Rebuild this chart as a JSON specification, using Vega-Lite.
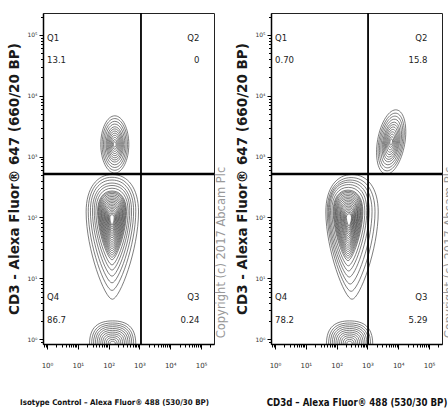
{
  "$schema": "https://vega.github.io/schema/vega-lite/v6.json",
  "background": "white",
  "padding": {"left": 7, "top": 11, "right": 0, "bottom": 0},
  "spacing": 57,
  "bounds": "flush",
  "datasets": {
    "contours": [
      {"p": 1, "form": "egg", "x": 131.8, "y": 47.9, "span": 2.05},
      {"p": 1, "form": "egg", "x": 128.8, "y": 53.7, "span": 1.86},
      {"p": 1, "form": "egg", "x": 128.8, "y": 58.9, "span": 1.69},
      {"p": 1, "form": "egg", "x": 128.8, "y": 63.1, "span": 1.53},
      {"p": 1, "form": "egg", "x": 128.8, "y": 67.6, "span": 1.39},
      {"p": 1, "form": "egg", "x": 128.8, "y": 70.8, "span": 1.26},
      {"p": 1, "form": "egg", "x": 128.8, "y": 74.1, "span": 1.13},
      {"p": 1, "form": "egg", "x": 128.8, "y": 76.0, "span": 1.07},
      {"p": 1, "form": "egg", "x": 128.8, "y": 77.6, "span": 1.01},
      {"p": 1, "form": "egg", "x": 128.8, "y": 78.5, "span": 0.95},
      {"p": 1, "form": "egg", "x": 128.8, "y": 79.4, "span": 0.89},
      {"p": 1, "form": "egg", "x": 128.8, "y": 80.3, "span": 0.83},
      {"p": 1, "form": "egg", "x": 128.8, "y": 81.3, "span": 0.77},
      {"p": 1, "form": "egg", "x": 128.8, "y": 82.2, "span": 0.71},
      {"p": 1, "form": "egg", "x": 128.8, "y": 83.2, "span": 0.65},
      {"p": 1, "form": "egg", "x": 128.8, "y": 84.1, "span": 0.59},
      {"p": 1, "form": "egg", "x": 128.8, "y": 85.1, "span": 0.53},
      {"p": 1, "form": "egg", "x": 128.8, "y": 86.1, "span": 0.47},
      {"p": 1, "form": "egg", "x": 128.8, "y": 87.1, "span": 0.41},
      {"p": 1, "form": "egg", "x": 128.8, "y": 88.1, "span": 0.35},
      {"p": 1, "form": "egg", "x": 128.8, "y": 89.1, "span": 0.29},
      {"p": 1, "form": "egg", "x": 128.8, "y": 90.1, "span": 0.23},
      {"p": 1, "form": "egg", "x": 128.8, "y": 91.2, "span": 0.17},
      {"p": 1, "form": "oval", "x": 158.5, "y": 1585, "span": 0.94},
      {"p": 1, "form": "oval", "x": 158.5, "y": 1585, "span": 0.85},
      {"p": 1, "form": "oval", "x": 158.5, "y": 1585, "span": 0.76},
      {"p": 1, "form": "oval", "x": 158.5, "y": 1585, "span": 0.67},
      {"p": 1, "form": "oval", "x": 158.5, "y": 1585, "span": 0.58},
      {"p": 1, "form": "oval", "x": 158.5, "y": 1585, "span": 0.51},
      {"p": 1, "form": "oval", "x": 158.5, "y": 1585, "span": 0.44},
      {"p": 1, "form": "oval", "x": 158.5, "y": 1585, "span": 0.37},
      {"p": 1, "form": "oval", "x": 158.5, "y": 1585, "span": 0.30},
      {"p": 1, "form": "oval", "x": 158.5, "y": 1585, "span": 0.23},
      {"p": 1, "form": "oval", "x": 158.5, "y": 1585, "span": 0.16},
      {"p": 1, "form": "oval", "x": 158.5, "y": 1585, "span": 0.09},
      {"p": 1, "form": "dome", "x": 134.9, "y": 0.832, "span": 0.76},
      {"p": 1, "form": "dome", "x": 134.9, "y": 0.832, "span": 0.69},
      {"p": 1, "form": "dome", "x": 134.9, "y": 0.832, "span": 0.63},
      {"p": 1, "form": "dome", "x": 134.9, "y": 0.832, "span": 0.57},
      {"p": 1, "form": "dome", "x": 134.9, "y": 0.832, "span": 0.51},
      {"p": 1, "form": "dome", "x": 134.9, "y": 0.832, "span": 0.45},
      {"p": 1, "form": "dome", "x": 134.9, "y": 0.832, "span": 0.39},
      {"p": 1, "form": "dome", "x": 134.9, "y": 0.832, "span": 0.33},
      {"p": 1, "form": "dome", "x": 134.9, "y": 0.832, "span": 0.27},
      {"p": 1, "form": "dome", "x": 134.9, "y": 0.832, "span": 0.21},
      {"p": 1, "form": "dome", "x": 134.9, "y": 0.832, "span": 0.15},
      {"p": 1, "form": "dome", "x": 134.9, "y": 0.832, "span": 0.09},
      {"p": 2, "form": "egg", "x": 316.2, "y": 47.9, "span": 2.05},
      {"p": 2, "form": "egg", "x": 295.1, "y": 52.5, "span": 1.87},
      {"p": 2, "form": "egg", "x": 275.4, "y": 57.5, "span": 1.71},
      {"p": 2, "form": "egg", "x": 257.0, "y": 63.1, "span": 1.56},
      {"p": 2, "form": "egg", "x": 245.5, "y": 67.6, "span": 1.42},
      {"p": 2, "form": "egg", "x": 239.9, "y": 70.8, "span": 1.29},
      {"p": 2, "form": "egg", "x": 234.4, "y": 74.1, "span": 1.16},
      {"p": 2, "form": "egg", "x": 234.4, "y": 76.0, "span": 1.10},
      {"p": 2, "form": "egg", "x": 234.4, "y": 77.6, "span": 1.04},
      {"p": 2, "form": "egg", "x": 234.4, "y": 78.5, "span": 0.98},
      {"p": 2, "form": "egg", "x": 234.4, "y": 79.4, "span": 0.92},
      {"p": 2, "form": "egg", "x": 234.4, "y": 80.3, "span": 0.86},
      {"p": 2, "form": "egg", "x": 234.4, "y": 81.3, "span": 0.80},
      {"p": 2, "form": "egg", "x": 237.1, "y": 82.2, "span": 0.74},
      {"p": 2, "form": "egg", "x": 239.9, "y": 83.2, "span": 0.68},
      {"p": 2, "form": "egg", "x": 239.9, "y": 84.1, "span": 0.62},
      {"p": 2, "form": "egg", "x": 239.9, "y": 85.1, "span": 0.56},
      {"p": 2, "form": "egg", "x": 242.7, "y": 86.1, "span": 0.50},
      {"p": 2, "form": "egg", "x": 245.5, "y": 87.1, "span": 0.44},
      {"p": 2, "form": "egg", "x": 245.5, "y": 88.1, "span": 0.38},
      {"p": 2, "form": "egg", "x": 245.5, "y": 89.1, "span": 0.32},
      {"p": 2, "form": "egg", "x": 248.3, "y": 90.1, "span": 0.26},
      {"p": 2, "form": "egg", "x": 251.2, "y": 91.2, "span": 0.20},
      {"p": 2, "form": "tilt", "x": 5888, "y": 1738, "span": 1.07},
      {"p": 2, "form": "tilt", "x": 5888, "y": 1738, "span": 0.96},
      {"p": 2, "form": "tilt", "x": 5888, "y": 1738, "span": 0.86},
      {"p": 2, "form": "tilt", "x": 5888, "y": 1738, "span": 0.76},
      {"p": 2, "form": "tilt", "x": 5888, "y": 1738, "span": 0.66},
      {"p": 2, "form": "tilt", "x": 5888, "y": 1738, "span": 0.58},
      {"p": 2, "form": "tilt", "x": 5888, "y": 1738, "span": 0.50},
      {"p": 2, "form": "tilt", "x": 5888, "y": 1738, "span": 0.42},
      {"p": 2, "form": "tilt", "x": 5888, "y": 1738, "span": 0.34},
      {"p": 2, "form": "tilt", "x": 5888, "y": 1738, "span": 0.26},
      {"p": 2, "form": "tilt", "x": 5888, "y": 1738, "span": 0.18},
      {"p": 2, "form": "tilt", "x": 5888, "y": 1738, "span": 0.10},
      {"p": 2, "form": "dome", "x": 263.0, "y": 0.832, "span": 0.76},
      {"p": 2, "form": "dome", "x": 263.0, "y": 0.832, "span": 0.69},
      {"p": 2, "form": "dome", "x": 263.0, "y": 0.832, "span": 0.63},
      {"p": 2, "form": "dome", "x": 263.0, "y": 0.832, "span": 0.57},
      {"p": 2, "form": "dome", "x": 263.0, "y": 0.832, "span": 0.51},
      {"p": 2, "form": "dome", "x": 263.0, "y": 0.832, "span": 0.45},
      {"p": 2, "form": "dome", "x": 263.0, "y": 0.832, "span": 0.39},
      {"p": 2, "form": "dome", "x": 263.0, "y": 0.832, "span": 0.33},
      {"p": 2, "form": "dome", "x": 263.0, "y": 0.832, "span": 0.27},
      {"p": 2, "form": "dome", "x": 263.0, "y": 0.832, "span": 0.21},
      {"p": 2, "form": "dome", "x": 263.0, "y": 0.832, "span": 0.15},
      {"p": 2, "form": "dome", "x": 263.0, "y": 0.832, "span": 0.09}
    ],
    "gates": [
      {"p": 1, "gx": 1122, "gy": 518},
      {"p": 2, "gx": 1047, "gy": 518}
    ],
    "labels": [
      {"p": 1, "side": "left", "t": "Q1", "x": 1.0, "y": 88900},
      {"p": 1, "side": "left", "t": "13.1", "x": 1.0, "y": 38700},
      {"p": 1, "side": "right", "t": "Q2", "x": 89125, "y": 88900},
      {"p": 1, "side": "right", "t": "0", "x": 89125, "y": 38700},
      {"p": 1, "side": "left", "t": "Q4", "x": 1.0, "y": 4.93},
      {"p": 1, "side": "left", "t": "86.7", "x": 1.0, "y": 2.07},
      {"p": 1, "side": "right", "t": "Q3", "x": 89125, "y": 4.93},
      {"p": 1, "side": "right", "t": "0.24", "x": 89125, "y": 2.07},
      {"p": 2, "side": "left", "t": "Q1", "x": 1.0, "y": 88900},
      {"p": 2, "side": "left", "t": "0.70", "x": 1.0, "y": 38700},
      {"p": 2, "side": "right", "t": "Q2", "x": 89125, "y": 88900},
      {"p": 2, "side": "right", "t": "15.8", "x": 89125, "y": 38700},
      {"p": 2, "side": "left", "t": "Q4", "x": 1.0, "y": 4.93},
      {"p": 2, "side": "left", "t": "78.2", "x": 1.0, "y": 2.07},
      {"p": 2, "side": "right", "t": "Q3", "x": 89125, "y": 4.93},
      {"p": 2, "side": "right", "t": "5.29", "x": 89125, "y": 2.07}
    ]
  },
  "hconcat": [
    {
      "width": 171, "height": 331,
      "resolve": {"axis": {"x": "independent", "y": "independent"}},
      "layer": [
        {
          "data": {"name": "contours"},
          "transform": [{"filter": "datum.p == 1"}],
          "mark": {"type": "point", "filled": false, "clip": true, "color": "#262626", "strokeWidth": 0.7, "opacity": 0.85},
          "encoding": {
            "x": {"field": "x", "type": "quantitative", "scale": {"type": "log", "domain": [0.741, 263000], "nice": false},
              "axis": {"orient": "bottom", "values": [1, 10, 100, 1000, 10000, 100000], "labelExpr": "'10' + ['⁰','¹','²','³','⁴','⁵'][round(log(datum.value)/LN10)]", "tickSize": 5, "tickColor": "#000", "labelPadding": 12, "labelFontSize": 7, "labelFont": "DejaVu Sans", "labelColor": "#333", "domainColor": "#000", "domainWidth": 1.5, "grid": false,
                "title": "Isotype Control – Alexa Fluor® 488 (530/30 BP)", "titleFont": "DejaVu Sans Condensed", "titleFontSize": 7.9, "titleFontWeight": "bold", "titleColor": "#111", "titlePadding": 30, "titleX": 71}},
            "y": {"field": "y", "type": "quantitative", "scale": {"type": "log", "domain": [0.832, 229000], "nice": false},
              "axis": {"orient": "left", "values": [1, 10, 100, 1000, 10000, 100000], "labelExpr": "'10' + ['⁰','¹','²','³','⁴','⁵'][round(log(datum.value)/LN10)]", "tickSize": 4, "tickColor": "#000", "labelPadding": 2, "labelFontSize": 6, "labelFont": "DejaVu Sans", "labelColor": "#333", "domainColor": "#000", "domainWidth": 1.5, "grid": false,
                "title": "CD3 - Alexa Fluor® 647 (660/20 BP)", "titleFont": "DejaVu Sans", "titleFontSize": 13.5, "titleFontWeight": "bold", "titleColor": "#1a1a1a", "titlePadding": 5}},
            "size": {"field": "span", "type": "quantitative", "scale": {"type": "pow", "exponent": 2, "domain": [0, 2], "range": [0, 14811]}, "legend": null},
            "shape": {"field": "form", "type": "nominal", "scale": {"domain": ["egg", "oval", "tilt", "dome"], "range": [
              "M0,-1 C0.25,-1 0.42,-0.78 0.42,-0.4 C0.42,0.2 0.12,1 0,1 C-0.12,1 -0.42,0.2 -0.42,-0.4 C-0.42,-0.78 -0.25,-1 0,-1 Z",
              "M0,-1 C0.27,-1 0.49,-0.55 0.49,0 C0.49,0.55 0.27,1 0,1 C-0.27,1 -0.49,0.55 -0.49,0 C-0.49,-0.55 -0.27,-1 0,-1 Z",
              "M0.174,-0.985 C0.403,-0.945 0.51,-0.471 0.414,0.073 C0.318,0.617 0.055,1.025 -0.174,0.985 C-0.403,0.945 -0.51,0.471 -0.414,-0.073 C-0.318,-0.617 -0.055,-1.025 0.174,-0.985 Z",
              "M-1,0 C-1,-0.75 -0.6,-1 0,-1 C0.6,-1 1,-0.75 1,0 C1,0.75 0.6,1 0,1 C-0.6,1 -1,0.75 -1,0 Z"]}, "legend": null}
          }
        },
        {
          "data": {"name": "contours"},
          "transform": [{"filter": "datum.p == 1"}],
          "mark": {"type": "point", "opacity": 0},
          "encoding": {
            "x": {"field": "x", "type": "quantitative", "scale": {"type": "log", "domain": [0.741, 263000], "nice": false},
              "axis": {"orient": "bottom", "values": [0.8, 0.9, 2, 3, 4, 5, 6, 7, 8, 9, 20, 30, 40, 50, 60, 70, 80, 90, 200, 300, 400, 500, 600, 700, 800, 900, 2000, 3000, 4000, 5000, 6000, 7000, 8000, 9000, 20000, 30000, 40000, 50000, 60000, 70000, 80000, 90000, 200000], "labels": false, "domain": false, "tickSize": 3, "tickColor": "#000", "grid": false, "title": null}},
            "y": {"field": "y", "type": "quantitative", "scale": {"type": "log", "domain": [0.832, 229000], "nice": false},
              "axis": {"orient": "left", "values": [0.9, 2, 3, 4, 5, 6, 7, 8, 9, 20, 30, 40, 50, 60, 70, 80, 90, 200, 300, 400, 500, 600, 700, 800, 900, 2000, 3000, 4000, 5000, 6000, 7000, 8000, 9000, 20000, 30000, 40000, 50000, 60000, 70000, 80000, 90000, 200000], "labels": false, "domain": false, "tickSize": 2.5, "tickColor": "#000", "grid": false, "title": null}}
          }
        },
        {
          "data": {"name": "contours"},
          "transform": [{"filter": "datum.p == 1"}],
          "mark": {"type": "point", "opacity": 0},
          "encoding": {
            "y": {"field": "y", "type": "quantitative", "scale": {"type": "log", "domain": [0.832, 229000], "nice": false},
              "axis": {"orient": "right", "labels": false, "ticks": false, "domain": false, "grid": false, "title": "Copyright (c) 2017 Abcam Plc", "titleAngle": 270, "titleBaseline": "top", "titleFont": "DejaVu Sans", "titleFontSize": 11.5, "titleFontWeight": "normal", "titleColor": "#999", "titlePadding": 1, "titleY": 239}}
          }
        },
        {
          "data": {"name": "gates"},
          "transform": [{"filter": "datum.p == 1"}],
          "mark": {"type": "rule", "color": "#000", "strokeWidth": 1.8},
          "encoding": {"x": {"field": "gx", "type": "quantitative", "scale": {"type": "log", "domain": [0.741, 263000], "nice": false}, "axis": null}}
        },
        {
          "data": {"name": "gates"},
          "transform": [{"filter": "datum.p == 1"}],
          "mark": {"type": "rule", "color": "#000", "strokeWidth": 2.5},
          "encoding": {"y": {"field": "gy", "type": "quantitative", "scale": {"type": "log", "domain": [0.832, 229000], "nice": false}, "axis": null}}
        },
        {
          "data": {"name": "labels"},
          "transform": [{"filter": "datum.p == 1 && datum.side == 'left'"}],
          "mark": {"type": "text", "align": "left", "baseline": "middle", "font": "DejaVu Sans Condensed", "fontSize": 9.5, "color": "#222"},
          "encoding": {
            "x": {"field": "x", "type": "quantitative", "scale": {"type": "log", "domain": [0.741, 263000], "nice": false}, "axis": null},
            "y": {"field": "y", "type": "quantitative", "scale": {"type": "log", "domain": [0.832, 229000], "nice": false}, "axis": null},
            "text": {"field": "t", "type": "nominal"}
          }
        },
        {
          "data": {"name": "labels"},
          "transform": [{"filter": "datum.p == 1 && datum.side == 'right'"}],
          "mark": {"type": "text", "align": "right", "baseline": "middle", "font": "DejaVu Sans Condensed", "fontSize": 9.5, "color": "#222"},
          "encoding": {
            "x": {"field": "x", "type": "quantitative", "scale": {"type": "log", "domain": [0.741, 263000], "nice": false}, "axis": null},
            "y": {"field": "y", "type": "quantitative", "scale": {"type": "log", "domain": [0.832, 229000], "nice": false}, "axis": null},
            "text": {"field": "t", "type": "nominal"}
          }
        }
      ]
    },
    {
      "width": 171, "height": 331,
      "resolve": {"axis": {"x": "independent", "y": "independent"}},
      "layer": [
        {
          "data": {"name": "contours"},
          "transform": [{"filter": "datum.p == 2"}],
          "mark": {"type": "point", "filled": false, "clip": true, "color": "#262626", "strokeWidth": 0.7, "opacity": 0.85},
          "encoding": {
            "x": {"field": "x", "type": "quantitative", "scale": {"type": "log", "domain": [0.741, 263000], "nice": false},
              "axis": {"orient": "bottom", "values": [1, 10, 100, 1000, 10000, 100000], "labelExpr": "'10' + ['⁰','¹','²','³','⁴','⁵'][round(log(datum.value)/LN10)]", "tickSize": 5, "tickColor": "#000", "labelPadding": 12, "labelFontSize": 7, "labelFont": "DejaVu Sans", "labelColor": "#333", "domainColor": "#000", "domainWidth": 1.5, "grid": false,
                "title": "CD3d – Alexa Fluor® 488 (530/30 BP)", "titleFont": "DejaVu Sans Condensed", "titleFontSize": 9.6, "titleFontWeight": "bold", "titleColor": "#111", "titlePadding": 29}},
            "y": {"field": "y", "type": "quantitative", "scale": {"type": "log", "domain": [0.832, 229000], "nice": false},
              "axis": {"orient": "left", "values": [1, 10, 100, 1000, 10000, 100000], "labelExpr": "'10' + ['⁰','¹','²','³','⁴','⁵'][round(log(datum.value)/LN10)]", "tickSize": 4, "tickColor": "#000", "labelPadding": 2, "labelFontSize": 6, "labelFont": "DejaVu Sans", "labelColor": "#333", "domainColor": "#000", "domainWidth": 1.5, "grid": false,
                "title": "CD3 - Alexa Fluor® 647 (660/20 BP)", "titleFont": "DejaVu Sans", "titleFontSize": 13.5, "titleFontWeight": "bold", "titleColor": "#1a1a1a", "titlePadding": 5}},
            "size": {"field": "span", "type": "quantitative", "scale": {"type": "pow", "exponent": 2, "domain": [0, 2], "range": [0, 14811]}, "legend": null},
            "shape": {"field": "form", "type": "nominal", "scale": {"domain": ["egg", "oval", "tilt", "dome"], "range": [
              "M0,-1 C0.25,-1 0.42,-0.78 0.42,-0.4 C0.42,0.2 0.12,1 0,1 C-0.12,1 -0.42,0.2 -0.42,-0.4 C-0.42,-0.78 -0.25,-1 0,-1 Z",
              "M0,-1 C0.27,-1 0.49,-0.55 0.49,0 C0.49,0.55 0.27,1 0,1 C-0.27,1 -0.49,0.55 -0.49,0 C-0.49,-0.55 -0.27,-1 0,-1 Z",
              "M0.174,-0.985 C0.403,-0.945 0.51,-0.471 0.414,0.073 C0.318,0.617 0.055,1.025 -0.174,0.985 C-0.403,0.945 -0.51,0.471 -0.414,-0.073 C-0.318,-0.617 -0.055,-1.025 0.174,-0.985 Z",
              "M-1,0 C-1,-0.75 -0.6,-1 0,-1 C0.6,-1 1,-0.75 1,0 C1,0.75 0.6,1 0,1 C-0.6,1 -1,0.75 -1,0 Z"]}, "legend": null}
          }
        },
        {
          "data": {"name": "contours"},
          "transform": [{"filter": "datum.p == 2"}],
          "mark": {"type": "point", "opacity": 0},
          "encoding": {
            "x": {"field": "x", "type": "quantitative", "scale": {"type": "log", "domain": [0.741, 263000], "nice": false},
              "axis": {"orient": "bottom", "values": [0.8, 0.9, 2, 3, 4, 5, 6, 7, 8, 9, 20, 30, 40, 50, 60, 70, 80, 90, 200, 300, 400, 500, 600, 700, 800, 900, 2000, 3000, 4000, 5000, 6000, 7000, 8000, 9000, 20000, 30000, 40000, 50000, 60000, 70000, 80000, 90000, 200000], "labels": false, "domain": false, "tickSize": 3, "tickColor": "#000", "grid": false, "title": null}},
            "y": {"field": "y", "type": "quantitative", "scale": {"type": "log", "domain": [0.832, 229000], "nice": false},
              "axis": {"orient": "left", "values": [0.9, 2, 3, 4, 5, 6, 7, 8, 9, 20, 30, 40, 50, 60, 70, 80, 90, 200, 300, 400, 500, 600, 700, 800, 900, 2000, 3000, 4000, 5000, 6000, 7000, 8000, 9000, 20000, 30000, 40000, 50000, 60000, 70000, 80000, 90000, 200000], "labels": false, "domain": false, "tickSize": 2.5, "tickColor": "#000", "grid": false, "title": null}}
          }
        },
        {
          "data": {"name": "contours"},
          "transform": [{"filter": "datum.p == 2"}],
          "mark": {"type": "point", "opacity": 0},
          "encoding": {
            "y": {"field": "y", "type": "quantitative", "scale": {"type": "log", "domain": [0.832, 229000], "nice": false},
              "axis": {"orient": "right", "labels": false, "ticks": false, "domain": false, "grid": false, "title": "Copyright (c) 2017 Abcam Plc", "titleAngle": 270, "titleBaseline": "top", "titleFont": "DejaVu Sans", "titleFontSize": 11.5, "titleFontWeight": "normal", "titleColor": "#999", "titlePadding": 1, "titleY": 239}}
          }
        },
        {
          "data": {"name": "gates"},
          "transform": [{"filter": "datum.p == 2"}],
          "mark": {"type": "rule", "color": "#000", "strokeWidth": 1.8},
          "encoding": {"x": {"field": "gx", "type": "quantitative", "scale": {"type": "log", "domain": [0.741, 263000], "nice": false}, "axis": null}}
        },
        {
          "data": {"name": "gates"},
          "transform": [{"filter": "datum.p == 2"}],
          "mark": {"type": "rule", "color": "#000", "strokeWidth": 2.5},
          "encoding": {"y": {"field": "gy", "type": "quantitative", "scale": {"type": "log", "domain": [0.832, 229000], "nice": false}, "axis": null}}
        },
        {
          "data": {"name": "labels"},
          "transform": [{"filter": "datum.p == 2 && datum.side == 'left'"}],
          "mark": {"type": "text", "align": "left", "baseline": "middle", "font": "DejaVu Sans Condensed", "fontSize": 9.5, "color": "#222"},
          "encoding": {
            "x": {"field": "x", "type": "quantitative", "scale": {"type": "log", "domain": [0.741, 263000], "nice": false}, "axis": null},
            "y": {"field": "y", "type": "quantitative", "scale": {"type": "log", "domain": [0.832, 229000], "nice": false}, "axis": null},
            "text": {"field": "t", "type": "nominal"}
          }
        },
        {
          "data": {"name": "labels"},
          "transform": [{"filter": "datum.p == 2 && datum.side == 'right'"}],
          "mark": {"type": "text", "align": "right", "baseline": "middle", "font": "DejaVu Sans Condensed", "fontSize": 9.5, "color": "#222"},
          "encoding": {
            "x": {"field": "x", "type": "quantitative", "scale": {"type": "log", "domain": [0.741, 263000], "nice": false}, "axis": null},
            "y": {"field": "y", "type": "quantitative", "scale": {"type": "log", "domain": [0.832, 229000], "nice": false}, "axis": null},
            "text": {"field": "t", "type": "nominal"}
          }
        }
      ]
    }
  ],
  "config": {"view": {"stroke": "#222", "strokeWidth": 1}, "axis": {"grid": false}}
}
